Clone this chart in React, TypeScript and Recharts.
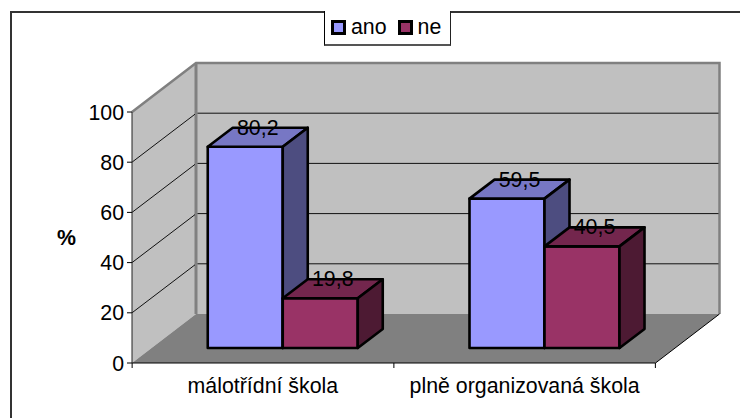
import React from 'react';
import { BarChart, Bar, XAxis, YAxis, CartesianGrid, Legend, usePlotArea } from 'recharts';

const categories = ['málotřídní škola', 'plně organizovaná škola'];
const ano = [80.2, 59.5];
const ne = [19.8, 40.5];
const yTicks = [0, 20, 40, 60, 80, 100];

const data = categories.map((name, i) => ({ name, ano: ano[i], ne: ne[i] }));

const FONT = '"Liberation Sans", Arial, sans-serif';
const FONT_SIZE = 21.33;

// oblique projection of the Excel 3D box
const DEPTH_X = 64;
const DEPTH_Y = 49;
const GAP_X = 20; // floor in front of the bars
const GAP_Y = 15;
const BAR_X = 25;
const BAR_Y = 19;

const WALL = '#c0c0c0';
const FLOOR = '#808080';

const shades: Record<string, { top: string; side: string }> = {
  '#9999ff': { top: '#7777c4', side: '#4d4d80' },
  '#993366': { top: '#73264d', side: '#4d1a33' },
};

const Walls = () => {
  const area = usePlotArea();
  if (!area) return null;
  const l = area.x;
  const r = area.x + area.width;
  const t = area.y;
  const b = area.y + area.height;
  return (
    <g>
      <polygon points={`${l},${t} ${l + DEPTH_X},${t - DEPTH_Y} ${l + DEPTH_X},${b - DEPTH_Y} ${l},${b}`} fill={WALL} />
      <rect x={l + DEPTH_X} y={t - DEPTH_Y} width={r - l} height={b - t} fill={WALL} />
      <polygon points={`${l},${b} ${l + DEPTH_X},${b - DEPTH_Y} ${r + DEPTH_X},${b - DEPTH_Y} ${r},${b}`} fill={FLOOR} />
      <path
        d={`M${l},${t} L${l + DEPTH_X},${t - DEPTH_Y} L${r + DEPTH_X},${t - DEPTH_Y} L${r + DEPTH_X},${b - DEPTH_Y}`}
        fill="none"
        stroke={FLOOR}
        strokeWidth={2.5}
      />
      <line x1={l + DEPTH_X} y1={t - DEPTH_Y} x2={l + DEPTH_X} y2={b - DEPTH_Y} stroke={FLOOR} strokeWidth={3} />
      <line x1={r} y1={b} x2={r + DEPTH_X} y2={b - DEPTH_Y} stroke="#000" strokeWidth={1} />
    </g>
  );
};

const gridLine = (p: any) => {
  // 0 and 100 are the floor and the top edge of the wall
  if (p.index === 0 || p.index === yTicks.length - 1) return <g key={p.key ?? p.index} />;
  const y = p.y1;
  return (
    <g key={p.key ?? p.index}>
      <line x1={p.x1} y1={y} x2={p.x1 + DEPTH_X - 1} y2={y - DEPTH_Y + 1} stroke="#111" strokeWidth={1} />
      <line x1={p.x1 + DEPTH_X + 1.5} y1={y - DEPTH_Y} x2={p.x2 + DEPTH_X - 1} y2={y - DEPTH_Y} stroke="#111" strokeWidth={1} />
    </g>
  );
};

const Box = (props: any) => {
  const { x, y, width, height, fill } = props;
  const fx = x + GAP_X;
  const fy = y - GAP_Y;
  const { top, side } = shades[fill];
  return (
    <g stroke="#000" strokeWidth={2.6} strokeLinejoin="round">
      <rect x={fx} y={fy} width={width} height={height} fill={fill} />
      <polygon
        points={`${fx},${fy} ${fx + BAR_X},${fy - BAR_Y} ${fx + width + BAR_X},${fy - BAR_Y} ${fx + width},${fy}`}
        fill={top}
      />
      <polygon
        points={`${fx + width},${fy} ${fx + width + BAR_X},${fy - BAR_Y} ${fx + width + BAR_X},${fy + height - BAR_Y} ${fx + width},${fy + height}`}
        fill={side}
      />
    </g>
  );
};

const BarLabel = (props: any) => {
  const { x, y, width, value } = props;
  return (
    <text
      x={x + width / 2 + GAP_X + BAR_X / 2}
      y={y - GAP_Y - 12}
      textAnchor="middle"
      fontSize={FONT_SIZE}
      fontFamily={FONT}
      fill="#000"
    >
      {String(value).replace('.', ',')}
    </text>
  );
};

const CategoryTick = (props: any) => {
  const { x, y, payload, index } = props;
  const band = 261.5;
  return (
    <g>
      <line x1={x - band / 2} y1={363} x2={x - band / 2} y2={368} stroke="#000" />
      {index === categories.length - 1 && <line x1={x + band / 2} y1={363} x2={x + band / 2} y2={368} stroke="#000" />}
      <text x={x} y={y + 22} textAnchor="middle" fontSize={FONT_SIZE} fontFamily={FONT} fill="#000">
        {payload.value}
      </text>
    </g>
  );
};

const LegendBox = ({ payload }: any) => (
  <div
    style={{
      boxSizing: 'border-box',
      width: 127,
      height: 35,
      background: '#fff',
      borderLeft: '1px solid #000',
      borderRight: '1px solid #222',
      borderBottom: '2px solid #555',
      display: 'flex',
      alignItems: 'center',
      fontFamily: FONT,
      fontSize: FONT_SIZE,
      color: '#000',
      paddingLeft: 6,
    }}
  >
    {(payload ?? []).map((entry: any) => (
      <span key={entry.value} style={{ display: 'flex', alignItems: 'center', marginRight: 11 }}>
        <span
          style={{
            boxSizing: 'border-box',
            width: 15,
            height: 15,
            marginRight: 5,
            background: entry.color,
            border: '3px solid #000',
          }}
        />
        {entry.value}
      </span>
    ))}
  </div>
);

export default function App() {
  return (
    <div style={{ position: 'absolute', left: 0, top: 0, width: 740, height: 418, background: '#fff', fontFamily: FONT }}>
      <div style={{ position: 'absolute', left: 10, top: 11, width: 2, height: 407, background: '#333' }} />
      <div style={{ position: 'absolute', left: 10, top: 11, width: 730, height: 2, background: '#333' }} />
      <BarChart
        width={740}
        height={418}
        data={data}
        margin={{ top: 112, right: 84.5, left: 0, bottom: 0 }}
        barGap={0}
        barCategoryGap="21.3%"
        style={{ position: 'absolute', left: 0, top: 0 }}
      >
        <Walls />
        <CartesianGrid vertical={false} horizontal={gridLine} zIndex={100} />
        <XAxis
          dataKey="name"
          height={55}
          interval={0}
          tickLine={false}
          axisLine={{ stroke: '#000' }}
          tick={<CategoryTick />}
        />
        <YAxis
          width={132}
          domain={[0, 100]}
          ticks={yTicks}
          interval={0}
          tickSize={5}
          tickMargin={3}
          tickLine={{ stroke: '#000' }}
          axisLine={{ stroke: '#222' }}
          tick={{ fontSize: FONT_SIZE, fontFamily: FONT, fill: '#000' }}
          label={{ value: '%', position: 'insideLeft', offset: 57, fontSize: FONT_SIZE, fontWeight: 'bold', fontFamily: FONT, fill: '#000' }}
        />
        <Legend
          layout="horizontal"
          verticalAlign="middle"
          align="center"
          content={<LegendBox />}
          wrapperStyle={{ position: 'absolute', left: 324, top: 11, width: 127, height: 35 }}
        />
        <Bar dataKey="ano" name="ano" fill="#9999ff" shape={<Box />} label={<BarLabel />} isAnimationActive={false} />
        <Bar dataKey="ne" name="ne" fill="#993366" shape={<Box />} label={<BarLabel />} isAnimationActive={false} />
      </BarChart>
    </div>
  );
}
